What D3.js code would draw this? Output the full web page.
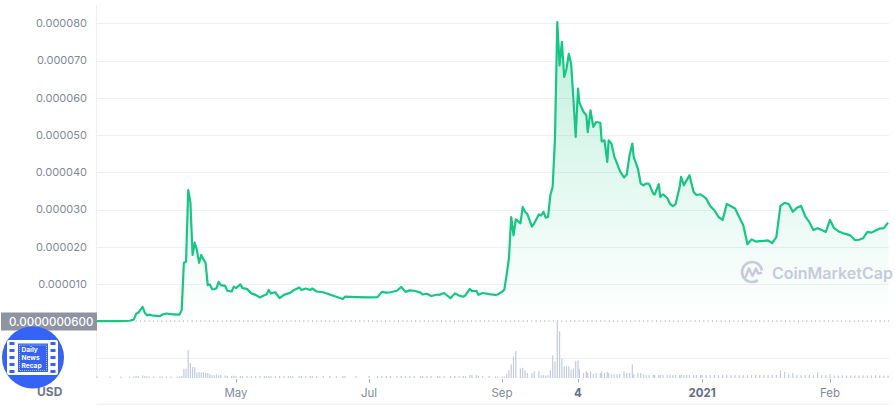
<!DOCTYPE html>
<html><head><meta charset="utf-8">
<script src="https://cdn.jsdelivr.net/npm/d3@7"></script>
<style>html,body{margin:0;padding:0;background:#fff;}svg{display:block;font-family:Inter,"Noto Sans",sans-serif;}</style>
</head><body><svg id="c" width="895" height="405"></svg>
<script>
// ---------- DATA ----------
const dates = [
"2020-02-27","2020-03-04","2020-03-09","2020-03-13","2020-03-15","2020-03-16","2020-03-17","2020-03-19","2020-03-20","2020-03-21",
"2020-03-22","2020-03-24","2020-03-27","2020-03-28","2020-03-30","2020-04-01","2020-04-04","2020-04-05","2020-04-06","2020-04-07",
"2020-04-08","2020-04-09","2020-04-10","2020-04-11","2020-04-12","2020-04-13","2020-04-14","2020-04-15","2020-04-16","2020-04-17",
"2020-04-18","2020-04-19","2020-04-20","2020-04-21","2020-04-22","2020-04-23","2020-04-24","2020-04-26","2020-04-27","2020-04-29",
"2020-04-30",
"2020-05-01","2020-05-03","2020-05-04","2020-05-06","2020-05-08","2020-05-10","2020-05-12","2020-05-14","2020-05-15","2020-05-16",
"2020-05-17","2020-05-19","2020-05-21","2020-05-23","2020-05-25","2020-05-26","2020-05-27","2020-05-30","2020-05-31","2020-06-02",
"2020-06-04","2020-06-05","2020-06-07","2020-06-10","2020-06-13","2020-06-16","2020-06-19","2020-06-20","2020-06-25",
"2020-07-01","2020-07-05","2020-07-07","2020-07-09","2020-07-11","2020-07-14","2020-07-16","2020-07-18","2020-07-20","2020-07-22",
"2020-07-25","2020-07-26","2020-07-28","2020-07-30","2020-08-02","2020-08-03","2020-08-05","2020-08-08","2020-08-10","2020-08-12",
"2020-08-14","2020-08-15","2020-08-17","2020-08-18","2020-08-20","2020-08-21","2020-08-23","2020-08-26","2020-08-29","2020-08-30",
"2020-09-01",
"2020-09-02","2020-09-03","2020-09-04","2020-09-05","2020-09-06","2020-09-07","2020-09-09","2020-09-10","2020-09-11","2020-09-12",
"2020-09-14","2020-09-15","2020-09-17","2020-09-18","2020-09-19","2020-09-20","2020-09-21","2020-09-22","2020-09-23","2020-09-24",
"2020-09-25","2020-09-26","2020-09-27","2020-09-28","2020-09-29","2020-09-30","2020-10-01","2020-10-02","2020-10-03","2020-10-04",
"2020-10-05","2020-10-08","2020-10-10","2020-10-11","2020-10-13","2020-10-15","2020-10-17","2020-10-20","2020-10-21","2020-10-23",
"2020-10-25","2020-10-26","2020-10-28","2020-10-30","2020-11-01","2020-11-03","2020-11-06","2020-11-08","2020-11-10","2020-11-12",
"2020-11-13","2020-11-16","2020-11-18","2020-11-20","2020-11-22","2020-11-24","2020-11-27","2020-11-28","2020-12-01","2020-12-02",
"2020-12-04","2020-12-07","2020-12-09","2020-12-11","2020-12-13","2020-12-16","2020-12-17","2020-12-19","2020-12-21","2020-12-23",
"2020-12-26","2020-12-28","2020-12-31",
"2021-01-01","2021-01-02","2021-01-03","2021-01-04","2021-01-05","2021-01-06","2021-01-07","2021-01-08","2021-01-09","2021-01-10",
"2021-01-11","2021-01-12","2021-01-13","2021-01-14","2021-01-15","2021-01-16","2021-01-17","2021-01-18","2021-01-19","2021-01-20",
"2021-01-21","2021-01-22","2021-01-23","2021-01-24","2021-01-25","2021-01-26","2021-01-27","2021-01-28","2021-01-29","2021-01-30",
"2021-01-31","2021-02-01","2021-02-02","2021-02-03","2021-02-04","2021-02-05","2021-02-06","2021-02-07","2021-02-08","2021-02-09",
"2021-02-10","2021-02-11","2021-02-12","2021-02-13","2021-02-14","2021-02-15"
];
// price in millionths of USD (×1e-6)
const pricesMicroUSD = [
0.06,0.06,0.06,0.15,0.5,2.0,2.3,3.9,2.3,1.6,
1.8,1.5,1.4,1.8,2.1,1.9,1.8,1.8,3.0,15.7,
16.0,35.2,32,17.8,21.1,19.1,15.7,17.8,16.6,15.7,
9.7,9.9,8.6,8.6,8.9,10.6,9.7,9.5,8.2,8.0,
9.3,
8.9,9.9,8.9,8.7,7.5,7.1,6.4,7.0,7.2,8.4,
7.5,7.8,6.2,7.1,7.5,7.7,8.2,9.1,8.4,8.8,
8.4,8.8,8.0,7.8,7.2,6.6,6.0,6.6,6.5,
6.4,6.5,7.9,7.7,7.8,8.2,9.2,7.9,8.3,8.2,
7.7,7.2,7.4,6.8,7.2,7.1,7.6,6.2,7.5,6.9,
6.6,7.0,8.7,8.1,8.2,7.1,7.6,7.3,7.1,7.2,
7.9,
8.5,12.4,16.9,28,23.1,27.4,26.3,30.7,29.4,28.8,
25.4,26.3,28.7,28.4,29.4,27.8,28,33.9,36.1,49.1,
80.3,68.7,75,65.6,67.8,71.8,69.2,59.8,49.5,62.5,
58.7,56.2,55.3,50.8,56.6,52.2,53.5,53.3,48.3,48.6,
42.8,48.6,47.7,44.3,42.4,40.4,38.6,39.4,44.6,47.7,
44.1,41,37,36.5,37,36.9,34.3,34,36.8,33.4,
34.1,33.1,31.6,30.9,31.4,36.1,38.8,36.5,37.9,39.2,
34.7,33.9,34.1,
33.8,33,30.9,29.8,28,27.2,31.5,30.9,30.3,28,
25.8,20.7,22,21.4,21.5,21.6,21.7,21.0,22.6,31,
31.8,31.5,29.4,30.5,31.0,28.2,26.6,24.5,25,24.5,
24,27.2,25,24.2,23.7,23.4,23,21.8,21.9,22.3,
24,23.8,24.4,24.9,25,26.5
];
// relative 24h volume (arbitrary units)
const volumes = [
1.5,1.5,1.5,1.5,1.5,2,2,2.5,2,1.5,
1.5,1.5,1.5,1.5,1.5,1.5,1.5,1.5,2,9.3,
9.3,28,15,11,11,5.3,6,5.3,6,5,
5,3.7,2.7,2.7,3.7,2.7,3,2.5,2,2,
2.5,
2,2,2,2,2,2,2,2,2,2,
2,2,2,2,2,2,2,2,2,2,
2,2,2,2,2,2,2,2,2,
2,2,2,2,2,2,2,2,2,2,
2,2,2,2,2,2,2,2,2,2,
2,2,3,3,3,2.5,2,2,1.5,1.5,
1.5,
1.5,4,7.7,13.7,21.7,27,9.7,10.3,7.7,5,
5,6.7,7,2.7,2.7,2.7,2.7,7.7,22.7,16.7,
56,46.7,19.3,11.7,11.7,11.7,8.3,9.3,16.7,17.7,
9.3,5,6.7,5,6.7,4.3,5,5,6.7,5,
6,5,3.7,3.7,3.7,4,6.7,5,5,13.7,
3.7,5,5,3.7,3,3,3,3,3,3,
3,3,3,3,3,3,3,3,3,3,
3,3,3,
3,3,3,3,3,3,3,3,3,3,
3,3,3,3,3,3,3,3,3,7.7,
6,3.7,5,3,3,3,3,3,5.7,3,
3,3.7,2.5,2.5,2.5,2.5,2.5,2.5,2.5,2.5,
2.5,2.5,3,2.5,2.5,2.5
];
const yTicks = [0.00001,0.00002,0.00003,0.00004,0.00005,0.00006,0.00007,0.00008];
const tickDates = ["2020-05-01","2020-07-01","2020-09-01","2020-10-04","2021-01-01","2021-02-01"];
const tickLabels = ["May","Jul","Sep","4","2021","Feb"];
const markerPrice = 0.00000006;
const markerLabel = "0.0000000600";

// ---------- LAYOUT ----------
const parse = d3.utcParse("%Y-%m-%d");
const data = dates.map((d,i)=>({date:parse(d), price:pricesMicroUSD[i]*1e-6, vol:volumes[i]}));
const plotL = 97, plotR = 889, volBase = 378, volTop = 321;
const xStops = [97, 236, 369, 502, 578, 702, 830, 888];
const x = d3.scaleUtc()
  .domain([data[0].date, ...tickDates.map(parse), data[data.length-1].date])
  .range(xStops);
const y = d3.scaleLinear().domain([0, 0.00008]).range([321.3, 23.3]);
const yv = d3.scaleLinear().domain([0, d3.max(volumes)*1.02]).range([volBase, volTop]);

const svg = d3.select("#c");
const defs = svg.append("defs");
const grad = defs.append("linearGradient").attr("id","g").attr("gradientUnits","userSpaceOnUse")
  .attr("x1",0).attr("x2",0).attr("y1",y(0.00008)).attr("y2",y(0));
grad.append("stop").attr("offset",0).attr("stop-color","#16c784").attr("stop-opacity",0.27);
grad.append("stop").attr("offset",0.6).attr("stop-color","#16c784").attr("stop-opacity",0.1);
grad.append("stop").attr("offset",1).attr("stop-color","#16c784").attr("stop-opacity",0.0);

// vertical axis line
svg.append("line").attr("x1",plotL-0.5).attr("x2",plotL-0.5).attr("y1",5).attr("y2",volBase)
  .attr("stroke","#eceff5");

// grid
svg.append("g").selectAll("line").data(yTicks).join("line")
  .attr("x1",plotL).attr("x2",plotR).attr("y1",d=>Math.round(y(d))+0.5).attr("y2",d=>Math.round(y(d))+0.5)
  .attr("stroke","#eef0f4");
svg.append("line").attr("x1",plotL).attr("x2",plotR).attr("y1",358.5).attr("y2",358.5).attr("stroke","#eef0f4");

// y labels
svg.append("g").selectAll("text").data(yTicks).join("text")
  .attr("x",87).attr("y",d=>y(d)).attr("dy","0.35em").attr("text-anchor","end")
  .attr("font-size",11).attr("fill","#808a9d").text(d3.format(".6f"));

// area
svg.append("path").datum(data)
  .attr("d",d3.area().x(d=>x(d.date)).y0(y(0)).y1(d=>y(d.price)))
  .attr("fill","url(#g)");

// volume bars
svg.append("g").selectAll("rect").data(data).join("rect")
  .attr("x",d=>x(d.date)-0.6).attr("width",1.2)
  .attr("y",d=>yv(d.vol)).attr("height",d=>volBase-yv(d.vol))
  .attr("fill","#c3cbe0");

// marker dotted line
svg.append("line").attr("x1",plotL).attr("x2",plotR)
  .attr("y1",y(markerPrice)).attr("y2",y(markerPrice))
  .attr("stroke","#8d95a5").attr("stroke-width",1).attr("stroke-dasharray","1,3.3");

// CoinMarketCap watermark
const wm = svg.append("g").attr("fill","none").attr("stroke","#c6cadd");
wm.append("path").attr("stroke-width",2.6).attr("stroke-linecap","round")
  .attr("d",d3.arc()({innerRadius:10,outerRadius:10,startAngle:Math.PI*0.8,endAngle:Math.PI*2.45}))
  .attr("transform","translate(752,272)");
wm.append("path").attr("stroke-width",2.4).attr("stroke-linejoin","round").attr("stroke-linecap","round")
  .attr("d","M745.5,277 L749,268.5 L752.5,276 L756,268.5 L758,273.5 L761,273");
svg.append("text").attr("x",772).attr("y",278.5).attr("font-size",16).attr("font-weight",600)
  .attr("fill","#c6cadd").text("CoinMarketCap");

// price line
svg.append("path").datum(data)
  .attr("d",d3.line().x(d=>x(d.date)).y(d=>y(d.price)))
  .attr("fill","none").attr("stroke","#16c784").attr("stroke-width",2.2).attr("stroke-linejoin","round");

// marker label box
svg.append("rect").attr("x",1).attr("y",312.5).attr("width",96).attr("height",18).attr("fill","#8e94a2");
svg.append("text").attr("x",9).attr("y",321.5).attr("dy","0.36em").attr("font-size",11.5).attr("font-weight",500)
  .attr("fill","#fff").text(markerLabel);

// x axis
const xa = svg.append("g");
xa.selectAll("line").data(tickDates).join("line")
  .attr("x1",d=>Math.round(x(parse(d)))+0.5).attr("x2",d=>Math.round(x(parse(d)))+0.5)
  .attr("y1",379).attr("y2",382.5).attr("stroke","#a7afc0");
xa.selectAll("text").data(tickLabels).join("text")
  .attr("x",(d,i)=>x(parse(tickDates[i]))).attr("y",396.5).attr("text-anchor","middle")
  .attr("font-size",11.5)
  .attr("font-weight",d=>(d==="4"||d==="2021")?700:400)
  .attr("fill",d=>(d==="4"||d==="2021")?"#626e84":"#808a9d")
  .text(d=>d);
svg.append("line").attr("x1",plotL).attr("x2",plotR).attr("y1",404.5).attr("y2",404.5).attr("stroke","#e7eaf7");

svg.append("text").attr("x",37).attr("y",396).attr("font-size",12).attr("font-weight",700)
  .attr("fill","#6d7688").text("USD");

// Daily News Recap badge
const b = svg.append("g");
b.append("circle").attr("cx",33).attr("cy",357.5).attr("r",31).attr("fill","#3463f6");
b.append("rect").attr("x",7).attr("y",340).attr("width",51).attr("height",35).attr("rx",2).attr("fill","#fff");
[342,349,356,363,370].forEach(hy=>{
  b.append("rect").attr("x",9.5).attr("y",hy).attr("width",5).attr("height",3).attr("fill","#3463f6");
  b.append("rect").attr("x",50.5).attr("y",hy).attr("width",5).attr("height",3).attr("fill","#3463f6");
});
b.append("rect").attr("x",18).attr("y",343.5).attr("width",30).attr("height",28.5).attr("fill","#3463f6");
b.append("rect").attr("x",19.5).attr("y",345).attr("width",27).attr("height",25.5).attr("fill","none")
  .attr("stroke","#fff").attr("stroke-width",0.6).attr("stroke-dasharray","1,1");
["Daily","News","Recap"].forEach((t,i)=>{
  b.append("text").attr("x",21.5).attr("y",352.3+i*8).attr("font-size",6.6).attr("font-weight",700)
    .attr("fill","#fff").text(t);
});
</script></body></html>
